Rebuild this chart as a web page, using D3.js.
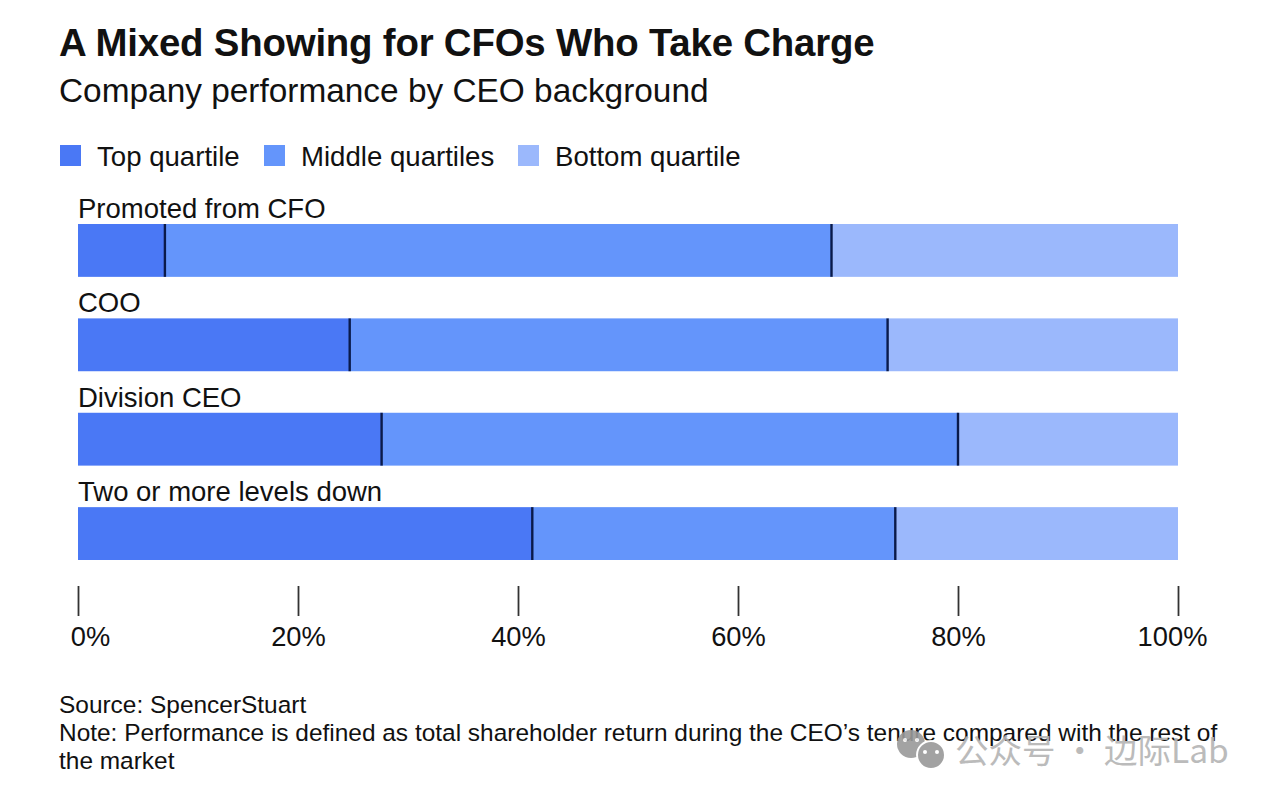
<!DOCTYPE html>
<html><head><meta charset="utf-8">
<script src="https://cdn.jsdelivr.net/npm/d3@7/dist/d3.min.js"></script>
<style>
html,body{margin:0;padding:0;background:#fff;overflow:hidden}
text{font-family:"Liberation Sans",Arial,sans-serif;fill:#111}
</style></head><body><svg id="c" width="1265" height="800"></svg>
<script>
const categories=["Promoted from CFO","COO","Division CEO","Two or more levels down"];
const topQuartile=[7.9,24.7,27.6,41.3];
const middleQuartiles=[60.6,48.9,52.4,33.0];
const bottomQuartile=[31.5,26.4,20.0,25.7];
const seriesNames=["Top quartile","Middle quartiles","Bottom quartile"];
const tickValues=[0,20,40,60,80,100];
const colors=["#4a78f5","#6495fb","#9bb8fc"];

const svg=d3.select("#c");
svg.append("text").attr("x",59).attr("y",56).attr("font-size",38.4).attr("font-weight",700).attr("letter-spacing",-0.2).text("A Mixed Showing for CFOs Who Take Charge");
svg.append("text").attr("x",59).attr("y",102).attr("font-size",33.4).text("Company performance by CEO background");

const legendX=[60,264,518];
seriesNames.forEach((n,i)=>{
  svg.append("rect").attr("x",legendX[i]).attr("y",145).attr("width",21).attr("height",21).attr("fill",colors[i]);
  svg.append("text").attr("x",legendX[i]+37).attr("y",166).attr("font-size",27.6).text(n);
});

const x=d3.scaleLinear().domain([0,100]).range([78,1178]);
const y=d3.scaleBand().domain(categories).range([224,560]).paddingInner(0.44).paddingOuter(0);
const rows=categories.map((c,i)=>({c,vals:[topQuartile[i],middleQuartiles[i],bottomQuartile[i]]}));
const g=svg.selectAll("g.row").data(rows).join("g").attr("class","row");
g.each(function(d){
  const s=d3.select(this);
  let acc=0;
  d.vals.forEach((v,i)=>{
    s.append("rect").attr("x",x(acc)).attr("y",y(d.c)).attr("width",x(acc+v)-x(acc)).attr("height",y.bandwidth()).attr("fill",colors[i]);
    acc+=v;
  });
  acc=0;
  d.vals.slice(0,2).forEach(v=>{
    acc+=v;
    s.append("line").attr("x1",x(acc)).attr("x2",x(acc)).attr("y1",y(d.c)).attr("y2",y(d.c)+y.bandwidth()).attr("stroke","#0a1a4a").attr("stroke-width",2.4);
  });
  s.append("text").attr("x",78).attr("y",y(d.c)-6).attr("font-size",27.5).text(d.c);
});

const axis=d3.axisBottom(x).tickValues(tickValues).tickFormat(d=>d+"%").tickSize(30).tickPadding(11);
const ax=svg.append("g").attr("transform","translate(0,586)").call(axis);
ax.select(".domain").remove();
ax.selectAll("line").attr("stroke","#333").attr("stroke-width",1.8);
ax.selectAll("text").attr("font-size",27.3).attr("fill","#111")
  .attr("dx",d=>d===0?12:d===100?-6:0);

const foot=["Source: SpencerStuart","Note: Performance is defined as total shareholder return during the CEO\u2019s tenure compared with the rest of","the market"];
foot.forEach((t,i)=>svg.append("text").attr("x",59).attr("y",713+i*28).attr("font-size",24.45).text(t));

const wm=svg.append("g").attr("opacity",0.9);
wm.append("circle").attr("cx",911).attr("cy",744).attr("r",14).attr("fill","#9a9a9a");
wm.append("circle").attr("cx",931).attr("cy",755).attr("r",14).attr("fill","#999").attr("stroke","#fff").attr("stroke-width",2);
[925,937].forEach(cx=>wm.append("circle").attr("cx",cx).attr("cy",752).attr("r",2).attr("fill","#fff"));
[905,917].forEach(cx=>wm.append("circle").attr("cx",cx).attr("cy",740).attr("r",2).attr("fill","#fff"));
wm.append("text").attr("x",955).attr("y",763).attr("font-size",33.5).style("fill","#b4b4b4").style("font-family","'Noto Sans CJK SC'").text("公众号 · 边际Lab");
</script></body></html>
